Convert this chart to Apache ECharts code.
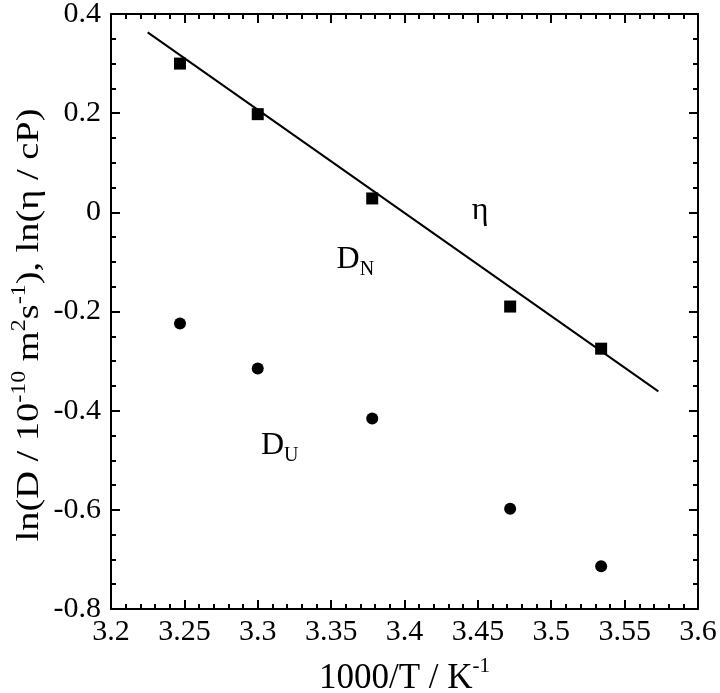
<!DOCTYPE html>
<html><head><meta charset="utf-8">
<script src="https://cdn.jsdelivr.net/npm/echarts@6/dist/echarts.min.js"></script>
<style>html,body{margin:0;padding:0;background:#fff}#c{width:720px;height:693px}</style>
</head><body><div id="c"></div>
<script>
const invT = [3.247, 3.300, 3.378, 3.472, 3.534];
const lnEta = [0.300, 0.198, 0.028, -0.190, -0.275];
const lnDU = [-0.224, -0.315, -0.416, -0.598, -0.714];
const fitLine = [[3.225, 0.363], [3.573, -0.361]];
const annotations = [
  [3.4515, 0.0, '{b|η}'],
  [3.3665, -0.10, '{b|D}{sub|N}'],
  [3.315, -0.474, '{b|D}{sub|U}']
];
const FONT = '"Liberation Serif", "Times New Roman", serif';
const chart = echarts.init(document.getElementById('c'));
const axisCommon = {
  axisLine: {show: true, onZero: false, lineStyle: {color: '#000', width: 2}},
  axisTick: {show: true, inside: true, length: 9, lineStyle: {color: '#000', width: 2}},
  minorTick: {show: true, length: 5, lineStyle: {color: '#000', width: 2}},
  splitLine: {show: false}
};
const xBase = Object.assign({type: 'value', min: 3.2, max: 3.6, interval: 0.05}, axisCommon);
const yBase = Object.assign({type: 'value', min: -0.8, max: 0.4, interval: 0.2}, axisCommon);
chart.setOption({
  animation: false,
  grid: {left: 111, right: 22, top: 14, bottom: 84, containLabel: false, outerBoundsMode: 'none'},
  xAxis: [
    Object.assign({}, xBase, {position: 'bottom',
      minorTick: Object.assign({}, axisCommon.minorTick, {splitNumber: 5}),
      axisLabel: {color: '#000', fontFamily: FONT, fontSize: 30, margin: 8},
      name: '{t|1000/T / K}{sup|-1}', nameLocation: 'middle', nameGap: 47,
      nameTextStyle: {rich: {
        t: {fontFamily: FONT, fontSize: 35, color: '#000', lineHeight: 40, verticalAlign: 'bottom'},
        sup: {fontFamily: FONT, fontSize: 21, color: '#000', lineHeight: 40, verticalAlign: 'top'}
      }}
    }),
    Object.assign({}, xBase, {position: 'top', axisLabel: {show: false},
      minorTick: Object.assign({}, axisCommon.minorTick, {splitNumber: 5})})
  ],
  yAxis: [
    Object.assign({}, yBase, {position: 'left',
      minorTick: Object.assign({}, axisCommon.minorTick, {splitNumber: 4}),
      axisLabel: {color: '#000', fontFamily: FONT, fontSize: 30, margin: 10}}),
    Object.assign({}, yBase, {position: 'right', axisLabel: {show: false},
      minorTick: Object.assign({}, axisCommon.minorTick, {splitNumber: 4})})
  ],
  graphic: [{
    type: 'text', x: 28, y: 325, rotation: Math.PI / 2, scaleX: 1.2, scaleY: 1,
    style: {
      text: '{t|ln(D / 10}{sup|-10}{t| m}{sup|2}{t|s}{sup|-1}{t|), ln(η / cP)}',
      align: 'center', verticalAlign: 'middle',
      rich: {
        t: {fontFamily: FONT, fontSize: 32, fill: '#000', lineHeight: 36, verticalAlign: 'bottom'},
        sup: {fontFamily: FONT, fontSize: 20, fill: '#000', lineHeight: 36, verticalAlign: 'top'}
      }
    }
  }],
  series: [
    {type: 'line', data: fitLine, showSymbol: false, symbol: 'none',
      lineStyle: {color: '#000', width: 2}, silent: true},
    {type: 'scatter', data: invT.map((x, i) => [x, lnEta[i]]), symbol: 'rect', symbolSize: 12,
      itemStyle: {color: '#000', opacity: 1}},
    {type: 'scatter', data: invT.map((x, i) => [x, lnDU[i]]), symbol: 'circle', symbolSize: 12,
      itemStyle: {color: '#000', opacity: 1}},
    {type: 'scatter', data: annotations.map(a => ({value: [a[0], a[1]], label: {formatter: a[2]}})),
      symbolSize: 0, silent: true,
      label: {show: true, position: 'inside', color: '#000', textBorderWidth: 0, opacity: 1,
        rich: {
          b: {fontFamily: FONT, fontSize: 32, color: '#000', lineHeight: 36, verticalAlign: 'top', textBorderWidth: 0},
          sub: {fontFamily: FONT, fontSize: 20, color: '#000', lineHeight: 36, verticalAlign: 'bottom', textBorderWidth: 0}
        }}}
  ]
});
</script></body></html>
